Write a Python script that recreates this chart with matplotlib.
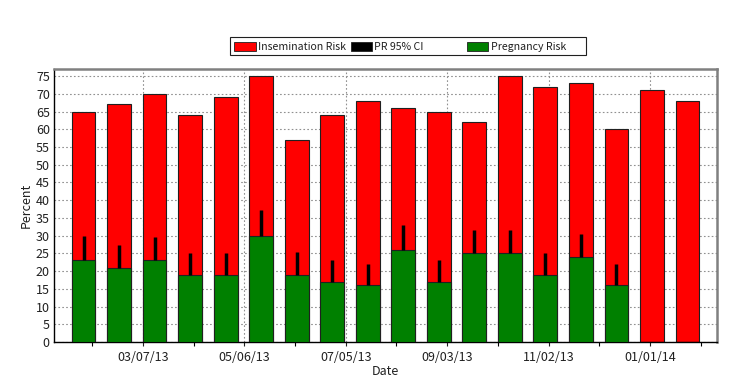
import matplotlib
matplotlib.use("Agg")
import matplotlib.pyplot as plt
import matplotlib.dates as mdates
from matplotlib.patches import Rectangle
import datetime as dt

plt.rcParams['font.family'] = ['Noto Sans CJK JP', 'DejaVu Sans']

bar_dates = ["2013-01-31", "2013-02-21", "2013-03-14", "2013-04-04", "2013-04-25",
             "2013-05-16", "2013-06-06", "2013-06-27", "2013-07-18", "2013-08-08",
             "2013-08-29", "2013-09-19", "2013-10-10", "2013-10-31", "2013-11-21",
             "2013-12-12", "2014-01-02", "2014-01-23"]
insemination_risk = [65, 67, 70, 64, 69, 75, 57, 64, 68, 66, 65, 62, 75, 72, 73, 60, 71, 68]
pregnancy_risk = [23, 21, 23, 19, 19, 30, 19, 17, 16, 26, 17, 25, 25, 19, 24, 16, 0, 0]
pr_ci_upper = [30, 27.5, 29.7, 25.2, 25, 37.3, 25.4, 23.2, 22, 33, 23.2, 31.6, 31.7, 25.2, 30.6, 21.9, None, None]
major_tick_dates = ["2013-03-07", "2013-05-06", "2013-07-05", "2013-09-03", "2013-11-02", "2014-01-01"]
minor_tick_dates = ["2013-02-05", "2013-04-06", "2013-06-05", "2013-08-04", "2013-10-03", "2013-12-02", "2014-01-31"]
y_ticks = list(range(0, 80, 5))
legend_labels = ["Insemination Risk", "PR 95% CI", "Pregnancy Risk"]
legend_colors = ["#ff0000", "#000000", "#008000"]

def to_num(ds):
    return mdates.date2num([dt.datetime.strptime(d, "%Y-%m-%d") for d in ds])

x = to_num(bar_dates)
xmaj = to_num(major_tick_dates)
xmin = to_num(minor_tick_dates)

W, H = 738, 391
fig = plt.figure(figsize=(W / 100, H / 100), dpi=100)
ax = fig.add_axes([0.0732, 0.1253, 0.8983, 0.6982])

width = 14
ax.bar(x, insemination_risk, width=width, color='#ff0000', edgecolor='#202020', linewidth=0.8, zorder=2)
ax.bar(x, pregnancy_risk, width=width, color='#008000', edgecolor='#202020', linewidth=0.8, zorder=3)
for xi, pr, up in zip(x, pregnancy_risk, pr_ci_upper):
    if up is not None:
        ax.vlines(xi, pr, up, color='black', linewidth=2.5, zorder=4)

ax.set_xlim(x[0] - 17.5, x[-1] + 17.5)
ax.set_ylim(0, 77)
ax.set_yticks(y_ticks)
ax.set_xticks(xmaj)
ax.set_xticks(xmin, minor=True)
ax.xaxis.set_major_formatter(mdates.DateFormatter("%m/%d/%y"))

ax.grid(True, axis='y', linestyle=(0, (1.5, 2)), color='#909090', linewidth=0.8, zorder=0)
ax.grid(True, axis='x', which='major', linestyle=(0, (1.5, 2)), color='#909090', linewidth=0.8, zorder=0)
ax.set_axisbelow(True)

ax.tick_params(axis='both', labelsize=9, colors='#202020', length=3, width=0.8)
ax.tick_params(axis='x', which='minor', length=3, width=0.8)
ax.tick_params(axis='y', length=0, pad=3)

for s in ['left', 'bottom']:
    ax.spines[s].set_color('black')
    ax.spines[s].set_linewidth(1.0)
for s in ['top', 'right']:
    ax.spines[s].set_color('#808080')
    ax.spines[s].set_linewidth(1.8)

ax.set_xlabel("Date", fontsize=9, color='#202020', labelpad=1)
ax.set_ylabel("Percent", fontsize=9, color='#202020', labelpad=2)

# Legend drawn with fixed-width columns, as in the reference
def fx(px):
    return px / W

def fy(py):
    return 1 - py / H

fig.add_artist(Rectangle((fx(230), fy(55)), fx(586) - fx(230), fy(37) - fy(55),
                         transform=fig.transFigure, facecolor='white',
                         edgecolor='#202020', linewidth=0.8))
for i, (lab, col) in enumerate(zip(legend_labels, legend_colors)):
    x0 = 234 + 116.5 * i
    fig.add_artist(Rectangle((fx(x0), fy(51)), fx(21.5), fy(42) - fy(51),
                             transform=fig.transFigure, facecolor=col,
                             edgecolor='#202020', linewidth=0.6))
    fig.text(fx(x0 + 24), fy(46.5), lab, fontsize=7.6, color='#202020',
             ha='left', va='center')

fig.savefig("out.png", dpi=100)
